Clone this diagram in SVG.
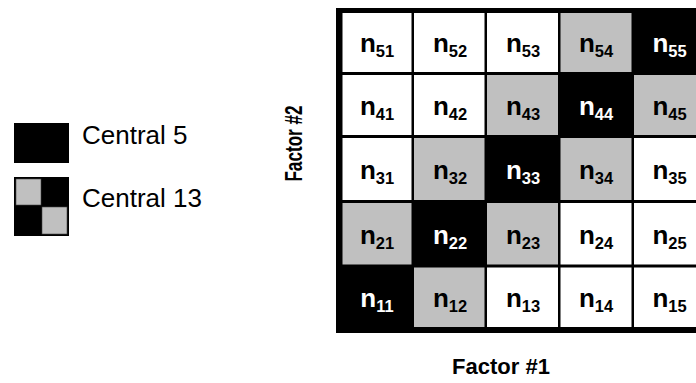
<svg xmlns="http://www.w3.org/2000/svg" width="696" height="383" viewBox="0 0 696 383">
  <style>
    .lbl { font-family: "Liberation Sans", Arial, sans-serif; font-weight: bold; font-size: 26px; text-anchor: middle; }
    .sub { font-size: 16.5px; }
    .dk { fill: #000000; }
    .lt { fill: #ffffff; }
    .w { fill: #ffffff; }
    .g { fill: #c0c0c0; }
    .b { fill: #000000; }
    .legend { font-family: "Liberation Sans", Arial, sans-serif; font-size: 26px; fill: #000000; }
    .axis { font-family: "Liberation Sans", Arial, sans-serif; font-weight: bold; font-size: 22px; fill: #000000; text-anchor: middle; }
  </style>

  <rect width="696" height="383" fill="#ffffff"/>

  <!-- legend -->
  <g id="legend-central5">
    <rect x="14" y="123" width="55" height="40" fill="#000000"/>
    <text class="legend" x="82" y="144">Central 5</text>
  </g>
  <g id="legend-central13">
    <rect x="14" y="177" width="55" height="59" fill="#000000"/>
    <rect x="16" y="179" width="25" height="26" fill="#c0c0c0" stroke="#444" stroke-width="0.6"/>
    <rect x="42" y="207" width="25" height="27" fill="#c0c0c0" stroke="#444" stroke-width="0.6"/>
    <text class="legend" x="82" y="207">Central 13</text>
  </g>

  <!-- axis titles -->
  <g id="axis-factor2">
    <text class="axis" transform="translate(294,143.5) rotate(-90) scale(0.78,1.12)" y="7.5">Factor #2</text>
  </g>
  <g id="axis-factor1">
    <text class="axis" x="501" y="374">Factor #1</text>
  </g>

  <!-- grid frame -->
  <rect id="grid-frame" x="336" y="8" width="372" height="325" fill="#000000"/>

  <!-- row 5 -->
  <g id="n51"><rect class="w" x="342.5" y="13" width="69" height="59"/><text class="lbl dk" x="377" y="52">n<tspan class="sub" dy="5">51</tspan></text></g>
  <g id="n52"><rect class="w" x="414" y="13" width="70.5" height="59"/><text class="lbl dk" x="450" y="52">n<tspan class="sub" dy="5">52</tspan></text></g>
  <g id="n53"><rect class="w" x="487" y="13" width="71" height="59"/><text class="lbl dk" x="523" y="52">n<tspan class="sub" dy="5">53</tspan></text></g>
  <g id="n54"><rect class="g" x="560.5" y="13" width="71" height="59"/><text class="lbl dk" x="596" y="52">n<tspan class="sub" dy="5">54</tspan></text></g>
  <g id="n55"><rect class="b" x="634" y="13" width="71" height="59"/><text class="lbl lt" x="669.5" y="52">n<tspan class="sub" dy="5">55</tspan></text></g>

  <!-- row 4 -->
  <g id="n41"><rect class="w" x="342.5" y="75" width="69" height="60"/><text class="lbl dk" x="377" y="114.5">n<tspan class="sub" dy="5">41</tspan></text></g>
  <g id="n42"><rect class="w" x="414" y="75" width="70.5" height="60"/><text class="lbl dk" x="450" y="114.5">n<tspan class="sub" dy="5">42</tspan></text></g>
  <g id="n43"><rect class="g" x="487" y="75" width="71" height="60"/><text class="lbl dk" x="523" y="114.5">n<tspan class="sub" dy="5">43</tspan></text></g>
  <g id="n44"><rect class="b" x="560.5" y="75" width="71" height="60"/><text class="lbl lt" x="596" y="114.5">n<tspan class="sub" dy="5">44</tspan></text></g>
  <g id="n45"><rect class="g" x="634" y="75" width="71" height="60"/><text class="lbl dk" x="669.5" y="114.5">n<tspan class="sub" dy="5">45</tspan></text></g>

  <!-- row 3 -->
  <g id="n31"><rect class="w" x="342.5" y="138" width="69" height="62"/><text class="lbl dk" x="377" y="179">n<tspan class="sub" dy="5">31</tspan></text></g>
  <g id="n32"><rect class="g" x="414" y="138" width="70.5" height="62"/><text class="lbl dk" x="450" y="179">n<tspan class="sub" dy="5">32</tspan></text></g>
  <g id="n33"><rect class="b" x="487" y="138" width="71" height="62"/><text class="lbl lt" x="523" y="179">n<tspan class="sub" dy="5">33</tspan></text></g>
  <g id="n34"><rect class="g" x="560.5" y="138" width="71" height="62"/><text class="lbl dk" x="596" y="179">n<tspan class="sub" dy="5">34</tspan></text></g>
  <g id="n35"><rect class="w" x="634" y="138" width="71" height="62"/><text class="lbl dk" x="669.5" y="179">n<tspan class="sub" dy="5">35</tspan></text></g>

  <!-- row 2 -->
  <g id="n21"><rect class="g" x="342.5" y="203" width="69" height="61.5"/><text class="lbl dk" x="377" y="243.5">n<tspan class="sub" dy="5">21</tspan></text></g>
  <g id="n22"><rect class="b" x="414" y="203" width="70.5" height="61.5"/><text class="lbl lt" x="450" y="243.5">n<tspan class="sub" dy="5">22</tspan></text></g>
  <g id="n23"><rect class="g" x="487" y="203" width="71" height="61.5"/><text class="lbl dk" x="523" y="243.5">n<tspan class="sub" dy="5">23</tspan></text></g>
  <g id="n24"><rect class="w" x="560.5" y="203" width="71" height="61.5"/><text class="lbl dk" x="596" y="243.5">n<tspan class="sub" dy="5">24</tspan></text></g>
  <g id="n25"><rect class="w" x="634" y="203" width="71" height="61.5"/><text class="lbl dk" x="669.5" y="243.5">n<tspan class="sub" dy="5">25</tspan></text></g>

  <!-- row 1 -->
  <g id="n11"><rect class="b" x="342.5" y="267.5" width="69" height="59.5"/><text class="lbl lt" x="377" y="306.5">n<tspan class="sub" dy="5">11</tspan></text></g>
  <g id="n12"><rect class="g" x="414" y="267.5" width="70.5" height="59.5"/><text class="lbl dk" x="450" y="306.5">n<tspan class="sub" dy="5">12</tspan></text></g>
  <g id="n13"><rect class="w" x="487" y="267.5" width="71" height="59.5"/><text class="lbl dk" x="523" y="306.5">n<tspan class="sub" dy="5">13</tspan></text></g>
  <g id="n14"><rect class="w" x="560.5" y="267.5" width="71" height="59.5"/><text class="lbl dk" x="596" y="306.5">n<tspan class="sub" dy="5">14</tspan></text></g>
  <g id="n15"><rect class="w" x="634" y="267.5" width="71" height="59.5"/><text class="lbl dk" x="669.5" y="306.5">n<tspan class="sub" dy="5">15</tspan></text></g>
</svg>
